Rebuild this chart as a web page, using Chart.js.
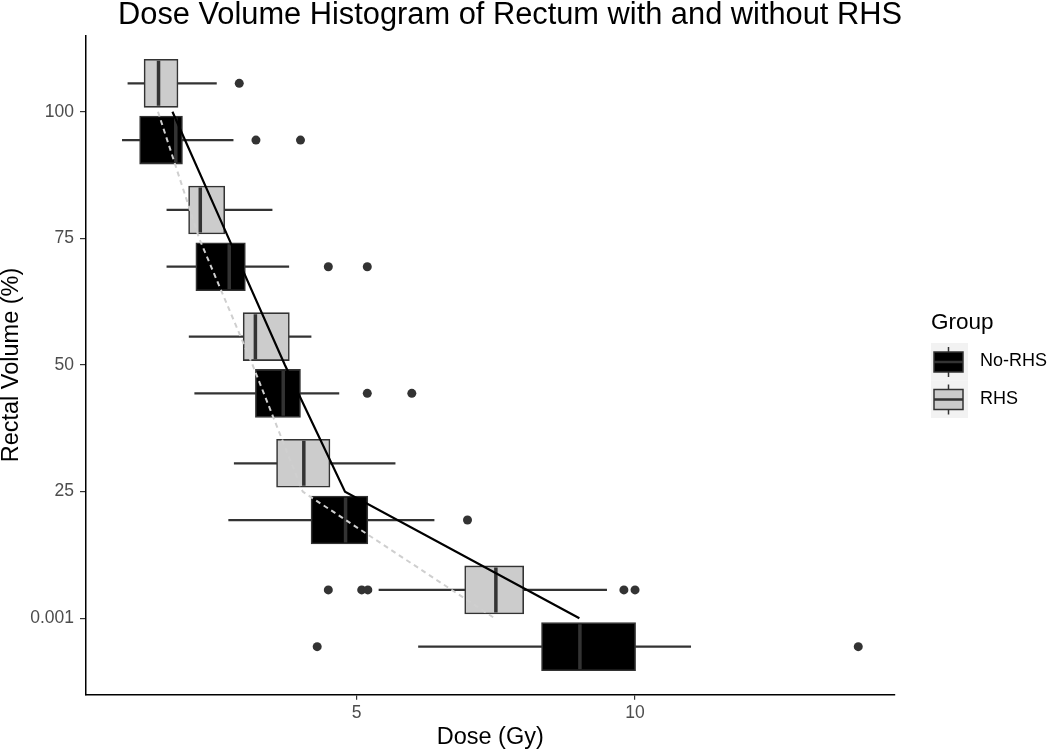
<!DOCTYPE html>
<html>
<head>
<meta charset="utf-8">
<script src="https://cdn.jsdelivr.net/npm/chart.js@4.4.1/dist/chart.umd.min.js"></script>
<style>
  html, body { margin: 0; padding: 0; background: #fff; }
  #wrap { width: 1050px; height: 750px; position: relative; }
</style>
</head>
<body>
<div id="wrap"><canvas id="dvhChart"></canvas></div>
<script>
// Rectal volume levels (y axis, top to bottom)
const volumeLabels = ['100', '75', '50', '25', '0.001'];
const doseTicks = [5, 10];

// RHS group, dose (Gy) per volume level
const rhsLow     = [0.89, 1.59, 1.99, 2.80, 5.40];
const rhsQ1      = [1.18, 1.98, 2.96, 3.56, 6.94];
const rhsMedian  = [1.44, 2.19, 3.18, 4.05, 7.50];
const rhsQ3      = [1.79, 2.63, 3.79, 4.52, 8.00];
const rhsHigh    = [2.48, 3.48, 4.18, 5.69, 9.49];
const rhsOutliers = [[2.89], [], [], [], [4.49, 5.09, 5.20, 9.80, 10.00]];
const rhsTrend   = [1.43, 2.17, 3.13, 4.03, 7.48];

// No-RHS group
const noRhsLow     = [0.79, 1.59, 2.09, 2.70, 6.11];
const noRhsQ1      = [1.10, 2.11, 3.18, 4.18, 8.32];
const noRhsMedian  = [1.75, 2.71, 3.68, 4.80, 9.01];
const noRhsQ3      = [1.87, 3.00, 3.99, 5.20, 10.01];
const noRhsHigh    = [2.78, 3.78, 4.68, 6.39, 11.00];
const noRhsOutliers = [[3.19, 3.99], [4.49, 5.19], [5.19, 5.99], [6.99], [4.29, 14.01]];
const noRhsTrend   = [1.69, 2.70, 3.71, 4.79, 9.00];

const FONT = "'Liberation Sans', Arial, sans-serif";
const INK = '#333333';
const DODGE = 0.224;   // half the dodge distance between the two boxes of a level

const GROUPS = [
  { label: 'No-RHS', fill: '#000000' },
  { label: 'RHS',    fill: '#cccccc' },
];

function boxDatasets(fill, shift, low, q1, med, q3, high, outliers) {
  const pos = i => i + shift;
  return [
    { // whiskers
      type: 'bar', indexAxis: 'y', grouped: false,
      data: low.map((v, i) => ({ x: [v, high[i]], y: pos(i) })),
      backgroundColor: INK, borderWidth: 0,
      barPercentage: 1, categoryPercentage: 1, maxBarThickness: 1.6,
      order: 4,
    },
    { // boxes
      type: 'bar', indexAxis: 'y', grouped: false,
      data: q1.map((v, i) => ({ x: [v, q3[i]], y: pos(i) })),
      backgroundColor: fill, borderColor: INK, borderWidth: 1.6, borderSkipped: false,
      barPercentage: 1, categoryPercentage: 1, maxBarThickness: 48,
      order: 3,
    },
    { // medians
      type: 'scatter',
      data: med.map((v, i) => ({ x: v, y: pos(i) })),
      pointStyle: 'line', pointRotation: 90, pointRadius: 22.5,
      pointBorderColor: INK, pointBorderWidth: 3.5,
      order: 2,
    },
    { // outliers
      type: 'scatter',
      data: outliers.flatMap((vals, i) => vals.map(v => ({ x: v, y: pos(i) }))),
      pointRadius: 4.5, pointBackgroundColor: INK, pointBorderWidth: 0,
      order: 2,
    },
  ];
}

// Legend drawn to the right of the plot, ggplot style
const groupLegend = {
  id: 'groupLegend',
  afterDraw(chart) {
    const { ctx, chartArea } = chart;
    const left = chartArea.right + 36;
    const mid = (chartArea.top + chartArea.bottom) / 2;
    ctx.save();
    ctx.textBaseline = 'middle';
    ctx.fillStyle = '#000';
    ctx.font = '22.5px ' + FONT;
    ctx.fillText('Group', left, mid - 42);
    GROUPS.forEach((g, i) => {
      const top = mid - 22 + i * 37.5;
      const cx = left + 17.5;
      const cy = top + 19;
      ctx.fillStyle = '#f2f2f2';
      ctx.fillRect(left, top, 37, 37.5);
      ctx.strokeStyle = INK;
      ctx.lineWidth = 1.5;
      ctx.beginPath();
      ctx.moveTo(cx, cy - 15);
      ctx.lineTo(cx, cy + 15);
      ctx.stroke();
      ctx.fillStyle = g.fill;
      ctx.fillRect(left + 3, cy - 10, 29, 20);
      ctx.strokeRect(left + 3, cy - 10, 29, 20);
      ctx.lineWidth = 2.5;
      ctx.beginPath();
      ctx.moveTo(left + 3, cy);
      ctx.lineTo(left + 32, cy);
      ctx.stroke();
      ctx.fillStyle = '#000';
      ctx.font = '18px ' + FONT;
      ctx.fillText(g.label, left + 49, cy - 0.5);
    });
    ctx.restore();
  }
};

Chart.defaults.font.family = FONT;

const datasets = [
  ...boxDatasets(GROUPS[1].fill, -DODGE, rhsLow, rhsQ1, rhsMedian, rhsQ3, rhsHigh, rhsOutliers),
  ...boxDatasets(GROUPS[0].fill, DODGE, noRhsLow, noRhsQ1, noRhsMedian, noRhsQ3, noRhsHigh, noRhsOutliers),
  {
    type: 'line',
    data: noRhsTrend.map((v, i) => ({ x: v, y: i })),
    borderColor: '#000000', borderWidth: 2.2,
    pointRadius: 0, fill: false, tension: 0,
    order: 0,
  },
  {
    type: 'line',
    data: rhsTrend.map((v, i) => ({ x: v, y: i })),
    borderColor: '#cfcfcf', borderWidth: 2, borderDash: [5, 4],
    pointRadius: 0, fill: false, tension: 0,
    order: 0,
  },
];

new Chart(document.getElementById('dvhChart'), {
  type: 'scatter',
  data: { datasets },
  plugins: [groupLegend],
  options: {
    responsive: true,
    maintainAspectRatio: false,
    animation: false,
    events: [],
    layout: { padding: { left: 0, right: 30, top: 0, bottom: 0 } },
    plugins: {
      legend: { display: false },
      tooltip: { enabled: false },
      title: {
        display: true,
        text: 'Dose Volume Histogram of Rectum with and without RHS',
        color: '#000',
        font: { size: 30.8, weight: 'normal', lineHeight: 1 },
        padding: { top: 0, bottom: 4.9 },
      },
    },
    scales: {
      x: {
        type: 'linear',
        offset: false,
        min: 0.128,
        max: 14.67,
        afterBuildTicks: axis => { axis.ticks = doseTicks.map(v => ({ value: v })); },
        afterFit: s => { s.height = 55.7; },
        ticks: { color: '#4d4d4d', font: { size: 17.5 }, padding: 2.5, callback: v => String(v) },
        grid: { offset: false, drawOnChartArea: false, tickLength: 5.5, color: INK, lineWidth: 1.2 },
        border: { display: true, color: '#000', width: 1.5 },
        title: {
          display: true, text: 'Dose (Gy)', color: '#000',
          font: { size: 23.5, lineHeight: 1 }, padding: { top: 0, bottom: 1 },
        },
      },
      y: {
        type: 'linear',
        offset: false,
        reverse: true,
        min: -0.6,
        max: 4.6,
        afterBuildTicks: axis => { axis.ticks = volumeLabels.map((_, i) => ({ value: i })); },
        afterFit: s => { s.width = 85.5; },
        ticks: { color: '#4d4d4d', font: { size: 17.5 }, padding: 6, callback: v => volumeLabels[v] },
        grid: { offset: false, drawOnChartArea: false, tickLength: 5.5, color: INK, lineWidth: 1.2 },
        border: { display: true, color: '#000', width: 1.5 },
        title: {
          display: true, text: 'Rectal Volume (%)', color: '#000',
          font: { size: 23.5, lineHeight: 1 }, padding: { top: 0, bottom: 0 },
        },
      },
      // keeps room on the right for the group legend
      legendSpace: {
        axis: 'y',
        type: 'linear',
        position: 'right',
        ticks: { display: false },
        grid: { display: false },
        border: { display: false },
        afterFit: s => { s.width = 125; },
      },
    },
  },
});
</script>
</body>
</html>
